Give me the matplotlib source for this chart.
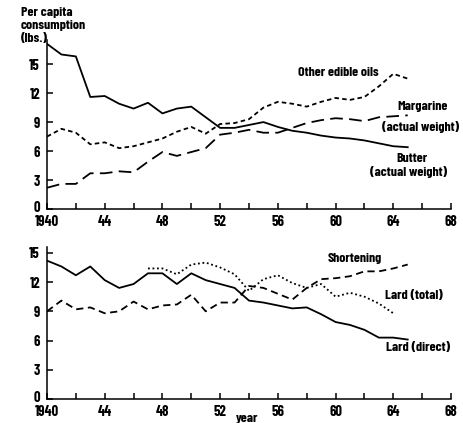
import matplotlib
matplotlib.use("Agg")
import matplotlib.pyplot as plt
import matplotlib.transforms as mtransforms
from matplotlib import font_manager

names = {f.name for f in font_manager.fontManager.ttflist}
FONT = next((n for n in ["Barlow Condensed", "Roboto Condensed", "Archivo Narrow"] if n in names),
            "DejaVu Sans")
plt.rcParams['font.family'] = [FONT, 'DejaVu Sans']

years = list(range(1940, 1966))
butter = [17.1, 16.0, 15.8, 11.6, 11.7, 10.9, 10.4, 11.0, 9.9, 10.4, 10.6, 9.5, 8.4,
          8.4, 8.7, 9.0, 8.5, 8.1, 7.9, 7.6, 7.4, 7.3, 7.1, 6.8, 6.5, 6.4]
other_oils = [7.5, 8.3, 7.9, 6.7, 6.9, 6.3, 6.5, 6.9, 7.3, 8.0, 8.5, 7.8, 8.8,
              8.9, 9.3, 10.5, 11.1, 10.9, 10.6, 11.1, 11.5, 11.3, 11.6, 12.7, 14.0, 13.5]
margarine = [2.2, 2.6, 2.6, 3.7, 3.7, 3.9, 3.8, 4.9, 5.9, 5.5, 5.9, 6.3, 7.7,
             7.9, 8.2, 7.9, 7.9, 8.4, 8.9, 9.2, 9.4, 9.3, 9.1, 9.5, 9.6, 9.7]

lard_direct = [14.2, 13.6, 12.7, 13.6, 12.2, 11.4, 11.8, 12.9, 12.9, 11.8, 12.9, 12.2, 11.8,
               11.4, 10.1, 9.9, 9.6, 9.3, 9.4, 8.7, 7.9, 7.6, 7.1, 6.3, 6.3, 6.1]
shortening = [9.0, 10.1, 9.2, 9.4, 8.8, 9.0, 10.0, 9.2, 9.6, 9.7, 10.7, 9.0, 9.9,
              9.9, 11.6, 11.4, 10.8, 10.2, 11.4, 12.3, 12.4, 12.6, 13.1, 13.1, 13.4, 13.8]
lard_years = list(range(1947, 1965))
lard_total = [13.4, 13.4, 12.8, 13.8, 14.0, 13.5, 12.8, 11.1, 12.3, 12.7, 11.9, 11.4,
              11.8, 10.5, 10.9, 10.5, 9.8, 8.8]

xticks = list(range(1940, 1969, 4))
xticklabels = ["1940", "44", "48", "52", "56", "60", "64", "68"]
yticks = [0, 3, 6, 9, 12, 15]

W, H = 464, 423
fig = plt.figure(figsize=(W / 100, H / 100), dpi=100)
ax1 = fig.add_axes([47 / W, 1 - 209 / H, (451 - 47) / W, (209 - 40) / H])
ax2 = fig.add_axes([47 / W, 1 - 399 / H, (451 - 47) / W, (399 - 247) / H])

lw = 1.3
ax1.plot(years, butter, color='black', lw=lw, ls='-')
ax1.plot(years, other_oils, color='black', lw=lw, ls=(0, (2.5, 1.8)))
ax1.plot(years, margarine, color='black', lw=lw, ls=(0, (7, 3.5)))
ax1.set_ylim(0, 17.5)

ax2.plot(years, lard_direct, color='black', lw=lw, ls='-')
ax2.plot(years, shortening, color='black', lw=lw, ls=(0, (4, 2.5)))
ax2.plot(lard_years, lard_total, color='black', lw=lw, ls=(0, (1, 1.5)))
ax2.set_ylim(0, 15.6)

fs = 10
shift = mtransforms.ScaledTranslation(0, 3 / 100, fig.dpi_scale_trans)
for ax in (ax1, ax2):
    ax.set_xlim(1940, 1968)
    for s in ('top', 'right'):
        ax.spines[s].set_visible(False)
    for s in ('left', 'bottom'):
        ax.spines[s].set_linewidth(1.1)
    ax.set_xticks(xticks)
    ax.set_xticklabels(xticklabels)
    ax.set_xticks(list(range(1942, 1968, 4)), minor=True)
    ax.set_yticks(yticks)
    ax.tick_params(axis='both', which='both', direction='in', length=4, width=1.1,
                   labelsize=fs + 0.5)
    ax.tick_params(axis='x', pad=4.5)
    ax.tick_params(axis='y', pad=5)
    for lab in ax.get_xticklabels() + ax.get_yticklabels():
        lab.set_fontweight('bold')
    zero = ax.get_yticklabels()[0]
    zero.set_transform(zero.get_transform() + shift)

kw = dict(fontsize=fs, fontweight='bold', ha='center', va='center')
fig.text(21 / W, 1 - 7 / H, "Per capita\nconsumption\n(lbs.)", fontsize=fs,
         fontweight='bold', ha='left', va='top', linespacing=1.2)
fig.text(338 / W, 1 - 73 / H, "Other edible oils", **kw)
fig.text(423 / W, 1 - 106 / H, "Margarine", **kw)
fig.text(421 / W, 1 - 127 / H, "(actual weight)", **kw)
fig.text(412 / W, 1 - 158 / H, "Butter", **kw)
fig.text(409 / W, 1 - 172 / H, "(actual weight)", **kw)
fig.text(355 / W, 1 - 258 / H, "Shortening", **kw)
fig.text(414 / W, 1 - 295 / H, "Lard (total)", **kw)
fig.text(418 / W, 1 - 348 / H, "Lard (direct)", **kw)
fig.text(247 / W, 1 - 418 / H, "year", **kw)

fig.savefig("out.png", dpi=100)
